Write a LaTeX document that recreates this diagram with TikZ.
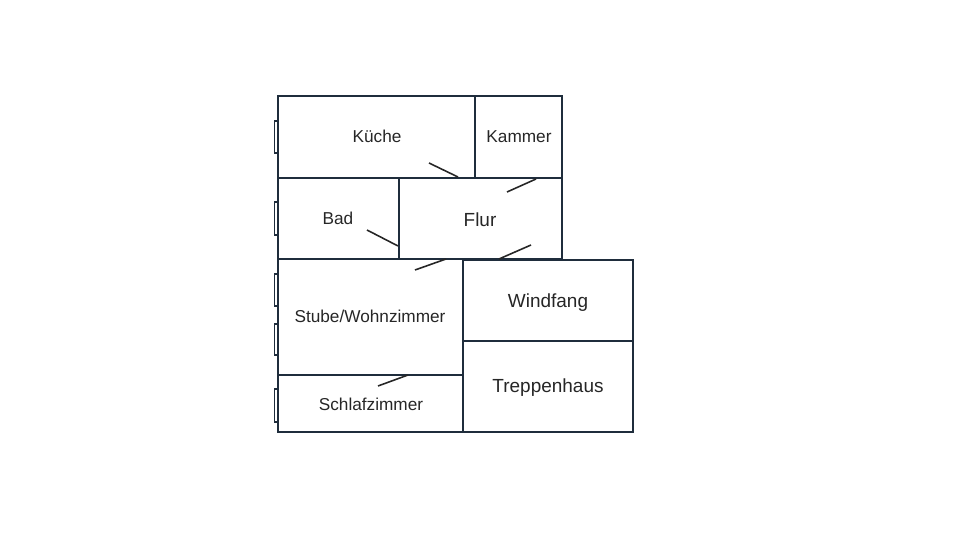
\documentclass[tikz,border=0pt]{standalone}
\usepackage{fontspec}
\setmainfont{Liberation Sans}
\usetikzlibrary{
	calc,               %计算
	positioning        %定位
}
\definecolor{wandfarbe}{HTML}{1F2D3C}
\tikzset{
	every picture/.style={
		x=0.02cm,y=-0.02cm,
		line join=miter
	},
	wand/.style={draw=wandfarbe,line width=1.1pt},
	tuer/.style={draw=black!85,line width=0.9pt},
	fenster/.style={draw=wandfarbe,line width=0.8pt},
	raum/.style={text=black!85,font=\fontsize{9.8}{12}\selectfont},
	grossraum/.style={text=black!85,font=\fontsize{10.8}{13}\selectfont}
}

\begin{document}
\begin{tikzpicture}
	\useasboundingbox (0,0) rectangle (960,540);
	% Fenster
	\foreach \ya/\yb in {121/153,202/235,274/306,324/355,389/422}
	\draw[fenster] (274.5,\ya) rectangle (278,\yb);
	% Waende
	\draw[wand] (278,96) rectangle (475,178);
	\draw[wand] (475,96) rectangle (562,178);
	\draw[wand] (278,178) rectangle (399,259);
	\draw[wand] (399,178) rectangle (562,259);
	\draw[wand] (278,259) rectangle (463,375);
	\draw[wand] (278,375) rectangle (463,432);
	\draw[wand] (463,260) rectangle (633,341);
	\draw[wand] (463,341) rectangle (633,432);
	% Tueren
	\draw[tuer] (429,163) -- (458,177);
	\draw[tuer] (507,192) -- (536,179);
	\draw[tuer] (367,230) -- (398,246);
	\draw[tuer] (531,245) -- (499,259);
	\draw[tuer] (415,270) -- (446,259);
	\draw[tuer] (378,386) -- (408,375);
	% Beschriftung
	\node (kueche) at (377,136) [raum] {Küche};
	\node (kammer) at (519,137) [raum] {Kammer};
	\node (bad) at (338,218) [raum] {Bad};
	\node (flur) at (480,220) [grossraum] {Flur};
	\node (stube) at (370,316) [raum] {Stube/Wohnzimmer};
	\node (schlaf) at (371,404) [raum] {Schlafzimmer};
	\node (windfang) at (548,303) [grossraum] {Windfang};
	\node (treppe) at (548,388) [grossraum] {Treppenhaus};
\end{tikzpicture}
\end{document}
